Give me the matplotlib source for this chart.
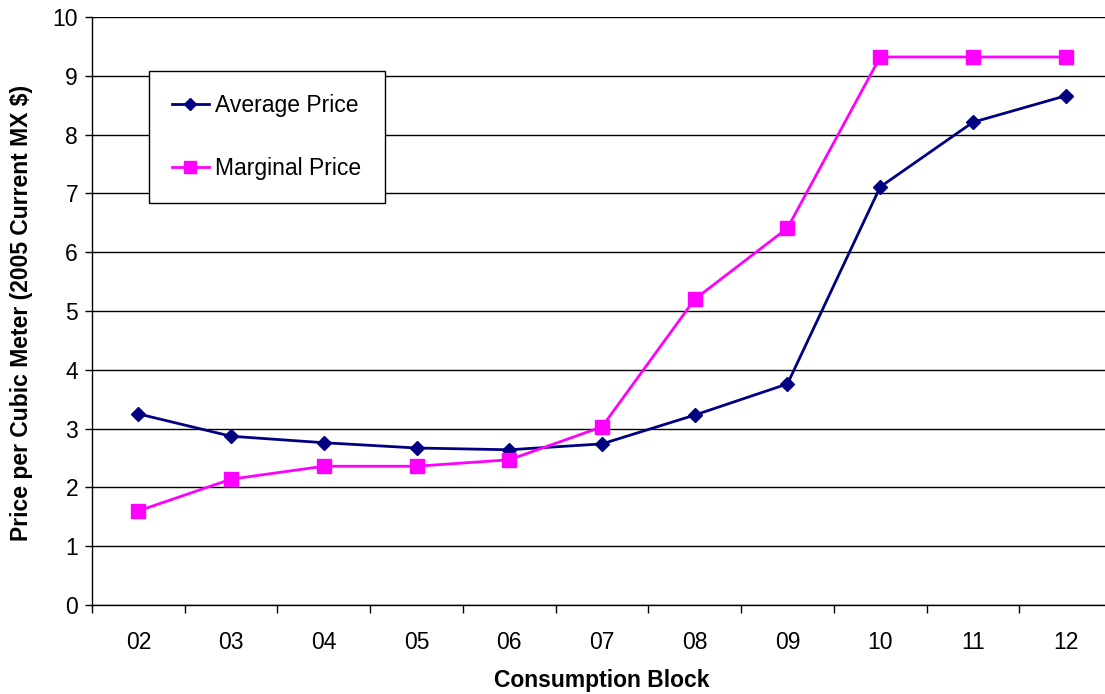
import matplotlib
matplotlib.use("Agg")
import matplotlib.pyplot as plt

plt.rcParams['font.family'] = ['Liberation Sans', 'DejaVu Sans']

blocks = ["02", "03", "04", "05", "06", "07", "08", "09", "10", "11", "12"]
average_price = [3.25, 2.87, 2.76, 2.67, 2.64, 2.74, 3.23, 3.76, 7.11, 8.21, 8.66]
marginal_price = [1.60, 2.14, 2.36, 2.36, 2.47, 3.03, 5.20, 6.41, 9.32, 9.32, 9.32]
y_ticks = [0, 1, 2, 3, 4, 5, 6, 7, 8, 9, 10]

W, H = 1105, 694
fig = plt.figure(figsize=(W / 100, H / 100), dpi=100)
left, right, top, bottom = 92, 1112, 17, 605
ax = fig.add_axes([left / W, 1 - bottom / H, (right - left) / W, (bottom - top) / H])

x = list(range(len(blocks)))
ax.plot(x, average_price, color="#000080", lw=2.0, marker="D", ms=7.5,
        label="Average Price", zorder=3)
ax.plot(x, marginal_price, color="#FF00FF", lw=2.0, marker="s", ms=9.5,
        label="Marginal Price", zorder=3)

ax.set_xlim(-0.5, len(blocks) - 0.5)
ax.set_ylim(0, 10)
ax.set_yticks(y_ticks)
ax.set_yticklabels([str(v) for v in y_ticks], fontsize=16.5)
ax.set_xticks(x)
ax.set_xticklabels(blocks, fontsize=16.5)
ax.set_xticks([i - 0.5 for i in range(len(blocks) + 1)], minor=True)
ax.tick_params(axis="x", which="major", length=0, pad=19)
ax.tick_params(axis="x", which="minor", length=6, width=1, direction="out")
ax.tick_params(axis="y", length=5, width=1, direction="out", pad=5)

ax.grid(axis="y", color="black", lw=1)
ax.set_axisbelow(True)
for side in ("top", "right"):
    ax.spines[side].set_visible(False)
ax.spines["left"].set_linewidth(1)
ax.spines["bottom"].set_linewidth(1)

fig.text(602 / W, 1 - 681 / H, "Consumption Block", ha="center", va="center",
         fontsize=16.5, fontweight="bold")
fig.text(22 / W, 1 - 313 / H, "Price per Cubic Meter (2005 Current MX $)",
         ha="center", va="center", rotation=90, fontsize=16.5, fontweight="bold")

leg = ax.legend(loc="upper left",
                bbox_to_anchor=((149 - left) / (right - left), (bottom - 71) / (bottom - top)),
                fontsize=16.5, frameon=True, fancybox=False, edgecolor="black",
                labelspacing=1.75, handlelength=1.6, handletextpad=0.3,
                borderpad=1.0, borderaxespad=0, markerscale=0.85)
leg.get_frame().set_linewidth(1)
leg.get_frame().set_facecolor("white")
leg.get_frame().set_alpha(1)

fig.savefig("out.png", dpi=100)
